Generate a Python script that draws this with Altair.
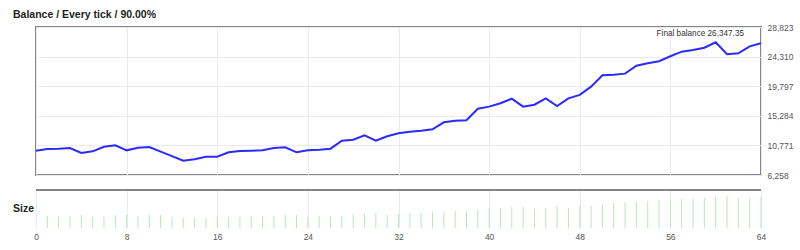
import altair as alt
import pandas as pd

# ---------------- data ----------------
steps = list(range(65))
balance = [9960, 10220, 10270, 10380, 9610, 9870, 10570, 10790, 10020, 10420,
           10530, 9830, 9125, 8440, 8650, 9050, 9050, 9720, 9920, 9960,
           10020, 10380, 10480, 9720, 10020, 10120, 10270, 11490, 11640, 12310,
           11490, 12160, 12630, 12860, 13020, 13220, 14290, 14540, 14600, 16370,
           16680, 17190, 17890, 16680, 16980, 17950, 16780, 17950, 18480, 19730,
           21460, 21550, 21710, 22930, 23290, 23600, 24360, 25060, 25320, 25670,
           26490, 24660, 24810, 25880, 26347.35]

size_steps = list(range(1, 65))
sizes = [0.12, 0.12, 0.12, 0.13, 0.11, 0.11, 0.13, 0.13, 0.12, 0.13, 0.13, 0.11, 0.10, 0.10, 0.10, 0.11,
         0.11, 0.11, 0.12, 0.12, 0.12, 0.13, 0.13, 0.11, 0.12, 0.12, 0.12, 0.13, 0.14, 0.15, 0.13, 0.14,
         0.15, 0.15, 0.16, 0.16, 0.17, 0.17, 0.18, 0.20, 0.20, 0.21, 0.21, 0.19, 0.20, 0.22, 0.20, 0.22,
         0.22, 0.24, 0.25, 0.26, 0.26, 0.27, 0.28, 0.28, 0.29, 0.29, 0.30, 0.31, 0.32, 0.30, 0.30, 0.31]

y_ticks = [6258, 10771, 15284, 19797, 24310, 28823]
x_ticks = [0, 8, 16, 24, 32, 40, 48, 56, 64]

title_text = ["Balance / Every tick / 90.00%"]
size_title = ["Size"]
final_label = ["Final balance 26,347.35"]

# ---------------- style ----------------
FONT = "Liberation Sans"
W = 725
H_TOP = 148
H_BOT = 38
GRID = "#e9ebf3"
FRAME = "#858585"
LABEL = "#555555"

bal_df = pd.DataFrame({"step": steps, "balance": balance})
size_df = pd.DataFrame({"step": size_steps, "size": sizes})

xscale = alt.Scale(domain=[0, 64], nice=False)

line = alt.Chart(bal_df).mark_line(color="#2b2bff", strokeWidth=2).encode(
    x=alt.X("step:Q", scale=xscale,
            axis=alt.Axis(values=x_ticks, labels=False, ticks=False, domain=False,
                          grid=True, gridColor=GRID, title=None)),
    y=alt.Y("balance:Q", scale=alt.Scale(domain=[6258, 28823], nice=False, zero=False),
            axis=alt.Axis(orient="right", values=y_ticks, format=",d", labelFontSize=8.5,
                          labelColor=LABEL, ticks=False, domain=False, labelPadding=6,
                          labelFlush=False, grid=True, gridColor=GRID, title=None)),
)

title_mark = alt.Chart(pd.DataFrame({"t": title_text})).mark_text(
    align="left", baseline="middle", fontWeight="bold", fontSize=10.5, font=FONT, color="#222222"
).encode(text="t:N", x=alt.value(-23), y=alt.value(-12))

final_mark = alt.Chart(pd.DataFrame({"t": final_label})).mark_text(
    align="right", baseline="middle", fontSize=8.2, font=FONT, color="#333333"
).encode(text="t:N", x=alt.value(708), y=alt.value(7))

top = alt.layer(line, title_mark, final_mark).properties(
    width=W, height=H_TOP,
    view=alt.ViewBackground(stroke=FRAME, strokeWidth=2),
)

bars = alt.Chart(size_df).mark_rule(color="#b8e8b8", strokeWidth=1).encode(
    x=alt.X("step:Q", scale=xscale,
            axis=alt.Axis(values=x_ticks, format="d", labelFontSize=8.5, labelColor=LABEL,
                          ticks=False, domain=False, grid=True, gridColor=GRID,
                          labelFlush=False, labelPadding=4, title=None)),
    y=alt.Y("size:Q", scale=alt.Scale(domain=[0, 0.38], nice=False), axis=None),
    y2=alt.datum(0),
)

top_line = alt.Chart(pd.DataFrame({"a": [0]})).mark_rule(color=FRAME, strokeWidth=2).encode(
    y=alt.value(0), x=alt.value(0), x2=alt.value(W)
)

size_mark = alt.Chart(pd.DataFrame({"t": size_title})).mark_text(
    align="left", baseline="middle", fontWeight="bold", fontSize=10.5, font=FONT, color="#222222"
).encode(text="t:N", x=alt.value(-23), y=alt.value(19))

bottom = alt.layer(bars, top_line, size_mark).properties(
    width=W, height=H_BOT,
    view=alt.ViewBackground(stroke="transparent"),
)

chart = alt.vconcat(top, bottom, spacing=7).properties(
    padding={"left": 12, "top": 9, "right": 5, "bottom": 2},
    background="white",
).configure_axis(labelFont=FONT)

chart.save("out.html", embed_options={"renderer": "svg", "actions": False})
